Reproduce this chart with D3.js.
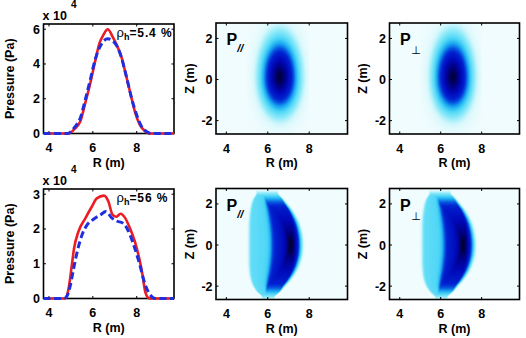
<!DOCTYPE html>
<html>
<head>
<script src="https://d3js.org/d3.v7.min.js"></script>
<style>
  body { margin: 0; background: #ffffff; }
  text { font-family: "Liberation Sans", Arial, Helvetica, sans-serif; fill: #000; }
</style>
</head>
<body>
<script>
// ---- pressure profiles along R (units of 10^4 Pa) ----
var rTopRed  = [3.75, 4.6, 4.89, 5.19, 5.42, 5.65, 5.88, 6.1, 6.3, 6.48, 6.68, 6.91, 7.12, 7.32, 7.51, 7.73, 7.92, 8.15, 8.38, 8.6, 9.7];
var pTopRed  = [0, 0, 0, 0.29, 0.67, 1.73, 2.88, 4.13, 5.19, 5.67, 6.0, 5.54, 5.0, 4.33, 3.37, 2.21, 1.25, 0.48, 0.13, 0, 0];
var rTopBlue = [3.75, 4.6, 4.83, 5.19, 5.42, 5.65, 5.88, 6.1, 6.33, 6.68, 7.01, 7.24, 7.51, 7.77, 8.0, 8.23, 8.46, 8.69, 9.7];
var pTopBlue = [0, 0, 0, 0.39, 0.86, 1.92, 3.08, 4.23, 5.0, 5.45, 5.19, 4.62, 3.37, 2.02, 1.06, 0.39, 0.1, 0, 0];
var rBotRed  = [3.75, 4.6, 4.73, 4.89, 5.04, 5.14, 5.34, 5.65, 5.95, 6.18, 6.51, 6.71, 6.89, 7.06, 7.27, 7.47, 7.7, 7.92, 8.12, 8.27, 8.38, 8.53, 8.65, 9.7];
var pBotRed  = [0, 0, 0, 0.27, 0.95, 1.43, 1.92, 2.3, 2.64, 2.88, 2.96, 2.79, 2.42, 2.35, 2.44, 2.32, 2.01, 1.63, 1.14, 0.66, 0.22, 0.02, 0, 0];
var rBotBlue = [3.75, 4.6, 4.68, 4.83, 4.97, 5.12, 5.3, 5.5, 5.73, 6.03, 6.33, 6.6, 6.86, 7.09, 7.39, 7.7, 7.92, 8.15, 8.33, 8.53, 8.73, 8.85, 9.7];
var pBotBlue = [0, 0, 0, 0.08, 0.37, 0.85, 1.38, 1.82, 2.11, 2.28, 2.4, 2.5, 2.32, 2.23, 2.16, 1.82, 1.43, 0.95, 0.51, 0.19, 0.03, 0, 0];

var rhoLabels = ["5.4 %", "56 %"];
var profYMax = [6.3, 3.15];
var profYTicks = [[0, 2, 4, 6], [0, 1, 2, 3]];
var rTicks = [4, 6, 8];
var zTicks = [-2, 0, 2];

// ---- 2D maps: midplane radial profile, vertical profile (normalised) ----
var hTopR    = [5.0, 5.2, 5.4, 5.6, 5.8, 6.0, 6.2, 6.4, 6.6, 6.8, 7.0, 7.2, 7.4, 7.6, 7.8, 8.0];
var hTopPar  = [0.006, 0.02, 0.058, 0.14, 0.29, 0.5, 0.745, 0.936, 1.0, 0.906, 0.7, 0.456, 0.254, 0.12, 0.048, 0.016];
var hTopPerp = [0.005, 0.018, 0.052, 0.13, 0.28, 0.49, 0.73, 0.93, 1.0, 0.92, 0.72, 0.47, 0.26, 0.12, 0.046, 0.015];
var vZ       = [-2.7, -2.4, -2.1, -1.8, -1.5, -1.2, -0.9, -0.6, -0.3, 0, 0.3, 0.6, 0.9, 1.2, 1.5, 1.8, 2.1, 2.4, 2.7];
var vTop     = [0.01, 0.025, 0.057, 0.118, 0.22, 0.368, 0.553, 0.748, 0.91, 0.994, 0.982, 0.895, 0.753, 0.584, 0.419, 0.277, 0.169, 0.095, 0.05];

var hBotR    = [4.9, 5.0, 5.1, 5.2, 5.3, 5.4, 5.5, 5.6, 5.7, 5.8, 5.9, 6.0, 6.1, 6.2, 6.3, 6.4, 6.5, 6.6, 6.7, 6.8, 6.9, 7.0, 7.1, 7.2, 7.3, 7.4, 7.5, 7.6, 7.7, 7.8, 7.9];
var hBotPar  = [0, 0, 0.08, 0.16, 0.17, 0.17, 0.17, 0.18, 0.18, 0.18, 0.19, 0.2, 0.25, 0.36, 0.48, 0.53, 0.56, 0.6, 0.64, 0.7, 0.8, 0.92, 1.0, 0.95, 0.82, 0.64, 0.42, 0.2, 0.06, 0, 0];
var hBotPerp = [0, 0, 0.08, 0.16, 0.17, 0.17, 0.17, 0.18, 0.18, 0.18, 0.19, 0.21, 0.27, 0.39, 0.5, 0.55, 0.58, 0.62, 0.66, 0.72, 0.82, 0.94, 1.0, 0.94, 0.8, 0.62, 0.41, 0.2, 0.06, 0, 0];
var vBotCap  = [0, 0.17, 0.4, 0.55, 0.62, 0.7, 0.78, 0.86, 0.95, 1.0, 0.95, 0.86, 0.78, 0.7, 0.62, 0.55, 0.4, 0.17, 0];
// D-shaped outline of the lower maps
var edgeZ     = [-2.5, -2.25, -2.0, -1.75, -1.5, -1.25, -1.0, -0.75, -0.5, -0.25, 0, 0.25, 0.5, 0.75, 1.0, 1.25, 1.5, 1.75, 2.0, 2.25, 2.5];
var edgeLeft  = [5.75, 5.5, 5.35, 5.26, 5.21, 5.19, 5.17, 5.17, 5.17, 5.17, 5.17, 5.17, 5.17, 5.17, 5.17, 5.18, 5.2, 5.23, 5.27, 5.35, 5.5];
var edgeRight = [6.3, 6.6, 6.8, 7.02, 7.2, 7.35, 7.46, 7.54, 7.6, 7.63, 7.64, 7.63, 7.6, 7.55, 7.48, 7.38, 7.25, 7.1, 6.9, 6.7, 6.45];

var heatStops  = [0, 0.04, 0.1, 0.2, 0.3, 0.4, 0.5, 0.7, 0.88, 1.0];
var heatColors = ["#f0fcfd", "#d8f8fc", "#8eeaf9", "#48d4f6", "#18a4f0", "#0656e0", "#0022d0", "#0008b8", "#00007a", "#000020"];

var svg = d3.select("body").append("svg")
    .attr("width", 526)
    .attr("height", 338);

var heatColor = d3.scaleLinear().domain(heatStops).range(heatColors).clamp(true);

// smooth profile through equally spaced samples, 0 outside
function smooth(xs, vs) {
    var t = d3.scaleLinear().domain([xs[0], xs[xs.length - 1]]).range([0, 1]);
    var f = d3.interpolateBasis(vs);
    return function(v) {
        if (v <= xs[0] || v >= xs[xs.length - 1]) return 0;
        return f(t(v));
    };
}

function separableField(hR, hV, zV) {
    var H = smooth(hR, hV), V = smooth(vZ, zV);
    return function(R, Z) { return H(R) * V(Z); };
}

function dField(hR, hV, cap) {
    var H = smooth(hR, hV), V = smooth(vZ, cap);
    var L = d3.scaleLinear().domain(edgeZ).range(edgeLeft).clamp(true);
    var Rr = d3.scaleLinear().domain(edgeZ).range(edgeRight).clamp(true);
    var Lm = L(0), Rm = Rr(0);
    return function(R, Z) {
        var s = (R - L(Z)) / (Rr(Z) - L(Z));
        return Math.min(H(Lm + s * (Rm - Lm)), V(Z));
    };
}

function ticksBox(g, x, y, box, xt, yt) {
    xt.forEach(function(t) {
        g.append("line").attr("x1", x(t)).attr("x2", x(t)).attr("y1", box.y1).attr("y2", box.y1 - 2.5)
            .attr("stroke", "#000").attr("stroke-width", 1);
        g.append("line").attr("x1", x(t)).attr("x2", x(t)).attr("y1", box.y0).attr("y2", box.y0 + 2.5)
            .attr("stroke", "#000").attr("stroke-width", 1);
        g.append("text").attr("x", x(t)).attr("y", box.y1 + 18.5)
            .attr("text-anchor", "middle").style("font-size", "12.5px").style("font-weight", "bold").text(t);
    });
    yt.forEach(function(t) {
        g.append("line").attr("x1", box.x0).attr("x2", box.x0 + 2.5).attr("y1", y(t)).attr("y2", y(t))
            .attr("stroke", "#000").attr("stroke-width", 1);
        g.append("line").attr("x1", box.x1).attr("x2", box.x1 - 2.5).attr("y1", y(t)).attr("y2", y(t))
            .attr("stroke", "#000").attr("stroke-width", 1);
        g.append("text").attr("x", box.x0 - 3.5).attr("y", y(t)).attr("dy", "0.36em")
            .attr("text-anchor", "end").style("font-size", "12.5px").style("font-weight", "bold").text(t);
    });
    g.append("text").attr("x", (box.x0 + box.x1) / 2).attr("y", box.y1 + 33)
        .attr("text-anchor", "middle").style("font-size", "12.5px").style("font-weight", "bold").text("R (m)");
}

// ---- left column: profiles ----
var profData = [
    {red: [rTopRed, pTopRed], blue: [rTopBlue, pTopBlue]},
    {red: [rBotRed, pBotRed], blue: [rBotBlue, pBotBlue]}
];
var rowDy = [0, 165];

profData.forEach(function(d, i) {
    var box = {x0: 43.5, x1: 174, y0: 24 + rowDy[i], y1: 133.5 + rowDy[i]};
    var g = svg.append("g");
    var x = d3.scaleLinear().domain([3.75, 9.7]).range([box.x0, box.x1]);
    var y = d3.scaleLinear().domain([0, profYMax[i]]).range([box.y1, box.y0]);

    g.append("clipPath").attr("id", "clipP" + i).append("rect")
        .attr("x", box.x0).attr("y", box.y0 - 2).attr("width", box.x1 - box.x0).attr("height", box.y1 - box.y0 + 4);

    g.append("rect").attr("x", box.x0).attr("y", box.y0).attr("width", box.x1 - box.x0).attr("height", box.y1 - box.y0)
        .attr("fill", "#fff").attr("stroke", "#000").attr("stroke-width", 1.6);

    ticksBox(g, x, y, box, rTicks, profYTicks[i]);

    var line = d3.line().x(function(p) { return x(p[0]); }).y(function(p) { return y(p[1]); }).curve(d3.curveMonotoneX);
    g.append("path").datum(d3.zip(d.red[0], d.red[1])).attr("d", line)
        .attr("clip-path", "url(#clipP" + i + ")")
        .attr("fill", "none").attr("stroke", "#ec1c24").attr("stroke-width", 2.6);
    g.append("path").datum(d3.zip(d.blue[0], d.blue[1])).attr("d", line)
        .attr("clip-path", "url(#clipP" + i + ")")
        .attr("fill", "none").attr("stroke", "#1f2fe0").attr("stroke-width", 3)
        .attr("stroke-dasharray", "7,3.5");

    g.append("text").attr("x", 10).attr("y", (box.y0 + box.y1) / 2).attr("dy", "0.35em")
        .attr("transform", "rotate(-90," + 10 + "," + ((box.y0 + box.y1) / 2) + ")")
        .attr("text-anchor", "middle").style("font-size", "12.5px").style("font-weight", "bold")
        .text("Pressure (Pa)");

    g.append("text").attr("x", 42.5).attr("y", box.y0 - 4)
        .style("font-size", "12.5px").style("font-weight", "bold").text("x 10");
    g.append("text").attr("x", 71).attr("y", box.y0 - 16)
        .style("font-size", "10px").style("font-weight", "bold").text("4");

    var rt = g.append("text").attr("x", 116.5).attr("y", box.y0 + 12.5).style("font-size", "12px");
    rt.append("tspan").style("font-size", "13px").text("ρ");
    rt.append("tspan").attr("dy", 3).style("font-size", "9px").style("font-weight", "bold").text("h");
    rt.append("tspan").attr("dy", -3).style("font-weight", "bold").style("letter-spacing", "0.9px")
        .text("=" + rhoLabels[i]);
});

// ---- right columns: 2D maps ----
var maps = [
    {field: separableField(hTopR, hTopPar, vTop), col: 0, row: 0, label: "par"},
    {field: separableField(hTopR, hTopPerp, vTop), col: 1, row: 0, label: "perp"},
    {field: dField(hBotR, hBotPar, vBotCap), col: 0, row: 1, label: "par"},
    {field: dField(hBotR, hBotPerp, vBotCap), col: 1, row: 1, label: "perp"}
];
var mapCols = [{x0: 216, x1: 347.5}, {x0: 389.5, x1: 519.5}];
var mapRowDy = [0, 165.5];

maps.forEach(function(m) {
    var box = {x0: mapCols[m.col].x0, x1: mapCols[m.col].x1, y0: 23 + mapRowDy[m.row], y1: 134 + mapRowDy[m.row]};
    var g = svg.append("g");
    var x = d3.scaleLinear().domain([3.5, 9.85]).range([box.x0, box.x1]);
    var y = d3.scaleLinear().domain([-2.65, 2.75]).range([box.y1, box.y0]);

    var w = Math.round(box.x1 - box.x0), h = Math.round(box.y1 - box.y0);
    var canvas = document.createElement("canvas");
    canvas.width = w;
    canvas.height = h;
    var ctx = canvas.getContext("2d");
    var img = ctx.createImageData(w, h);
    for (var j = 0; j < h; j++) {
        for (var k = 0; k < w; k++) {
            var c = d3.rgb(heatColor(m.field(x.invert(box.x0 + k + 0.5), y.invert(box.y0 + j + 0.5))));
            var o = 4 * (j * w + k);
            img.data[o] = c.r; img.data[o + 1] = c.g; img.data[o + 2] = c.b; img.data[o + 3] = 255;
        }
    }
    ctx.putImageData(img, 0, 0);
    g.append("image").attr("x", box.x0).attr("y", box.y0).attr("width", w).attr("height", h)
        .attr("preserveAspectRatio", "none").attr("href", canvas.toDataURL());

    g.append("rect").attr("x", box.x0).attr("y", box.y0).attr("width", box.x1 - box.x0).attr("height", box.y1 - box.y0)
        .attr("fill", "none").attr("stroke", "#000").attr("stroke-width", 1.6);

    ticksBox(g, x, y, box, rTicks, zTicks);

    var cy = (box.y0 + box.y1) / 2, lx = box.x0 - 26.5;
    g.append("text").attr("x", lx).attr("y", cy).attr("dy", "0.35em")
        .attr("transform", "rotate(-90," + lx + "," + cy + ")")
        .attr("text-anchor", "middle").style("font-size", "12.5px").style("font-weight", "bold").text("Z (m)");

    var t = g.append("text").attr("x", box.x0 + 10.5).attr("y", box.y0 + 22)
        .style("font-size", "16px").style("font-weight", "bold");
    t.append("tspan").text("P");
    if (m.label === "par") {
        t.append("tspan").attr("dy", 7).style("font-size", "11px").style("font-style", "italic").text("//");
    } else {
        t.append("tspan").attr("dy", 9).attr("dx", 0.5).style("font-size", "11px").style("font-weight", "normal")
            .style("font-family", "DejaVu Sans").text("\u22a5");
    }
});
</script>
</body>
</html>
